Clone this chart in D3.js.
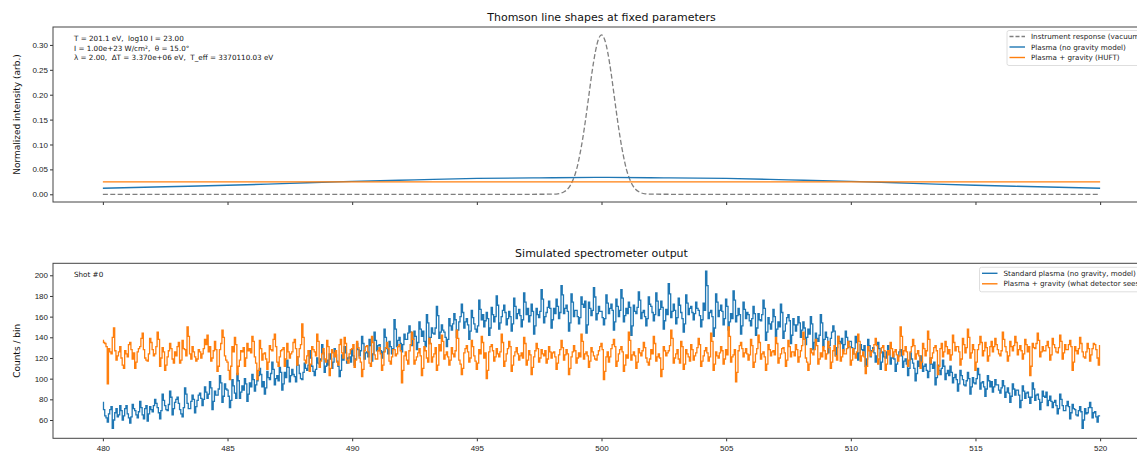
<!DOCTYPE html>
<html>
<head>
<meta charset="utf-8">
<script src="https://cdn.jsdelivr.net/npm/d3@7"></script>
<style>
  body { margin: 0; background: #fff; }
  svg { display: block; font-family: "DejaVu Sans", sans-serif; }
  .tick text { fill: #222; }
</style>
</head>
<body>
<div id="dataviz"></div>
<script>
// x ticks shared by both panels
var xTicks = [480, 485, 490, 495, 500, 505, 510, 515, 520];
var topYTicks = [0, 0.05, 0.10, 0.15, 0.20, 0.25, 0.30];
var botYTicks = [60, 80, 100, 120, 140, 160, 180, 200];

// top panel: smooth model line shapes
var shapeX = [480, 482.5, 485, 487.5, 490, 492.5, 495, 497.5, 500, 502.5, 505, 507.5, 510, 512.5, 515, 517.5, 520];
var plasmaShape = [0.012, 0.015, 0.018, 0.022, 0.026, 0.029, 0.032, 0.033, 0.034, 0.033, 0.032, 0.029, 0.026, 0.022, 0.018, 0.015, 0.012];
var gravityShape = [0.025, 0.025, 0.025, 0.025, 0.025, 0.025, 0.025, 0.025, 0.025, 0.025, 0.025, 0.025, 0.025, 0.025, 0.025, 0.025, 0.025];

// instrument response (vacuum)
var instX = [480, 490, 497, 498, 498.25, 498.5, 498.625, 498.75, 498.875, 499, 499.125, 499.25, 499.375, 499.5, 499.625, 499.75, 499.875, 500,
  500.125, 500.25, 500.375, 500.5, 500.625, 500.75, 500.875, 501, 501.125, 501.25, 501.375, 501.5, 501.75, 502, 503, 510, 520];
var instY = [0, 0, 0, 0.0002, 0.001, 0.005, 0.0097, 0.018, 0.031, 0.050, 0.078, 0.113, 0.155, 0.201, 0.247, 0.285, 0.311, 0.320,
  0.311, 0.285, 0.247, 0.201, 0.155, 0.113, 0.078, 0.050, 0.031, 0.018, 0.0097, 0.005, 0.001, 0.0002, 0, 0, 0];

// bottom panel: counts per bin, 480 .. 520, 40 bins per row (2 nm)
var stdCounts = [
  77,70,64,62,58,66,70,73,52,60,67,71,63,65,74,69,60,64,71,74,66,62,57,63,75,71,69,65,62,68,78,72,65,61,71,74,59,66,73,70,
  68,74,80,76,72,67,61,69,85,79,74,70,69,75,88,82,65,71,77,80,82,76,70,66,63,72,91,85,76,71,71,78,84,80,67,73,79,84,86,81,
  74,80,92,87,81,85,97,91,70,78,88,84,84,90,103,96,77,83,95,90,89,83,72,79,99,93,86,81,105,98,81,87,93,89,100,95,78,85,96,92,
  104,99,88,94,98,103,110,104,92,97,85,91,107,101,99,105,116,109,94,100,103,98,111,106,89,95,106,101,118,111,97,103,109,104,102,97,121,113,105,100,
  99,106,115,110,108,113,127,120,112,107,103,109,120,115,114,119,133,125,106,112,118,113,124,119,110,116,129,123,117,112,102,108,123,118,131,125,115,120,121,116,
  128,122,113,119,134,128,122,127,141,134,119,125,126,121,138,132,117,124,145,137,127,132,133,127,120,126,148,140,129,124,136,131,124,129,157,148,131,137,140,134,
  126,133,143,138,138,144,151,145,132,138,146,141,128,135,155,148,141,146,136,131,162,154,134,140,149,144,143,149,170,161,139,145,152,147,145,140,131,138,158,151,
  147,153,163,157,140,147,155,160,172,164,149,155,158,152,138,146,166,159,153,148,145,151,176,167,157,162,150,156,164,158,142,149,169,162,155,160,180,171,148,154,
  160,166,171,164,152,158,165,160,146,153,178,170,158,163,167,161,150,157,183,174,162,168,155,161,172,165,143,151,168,162,159,165,186,177,154,160,164,169,175,168,
  149,157,168,163,177,170,158,164,190,181,163,168,171,165,146,154,182,174,160,166,166,160,153,159,179,172,169,175,144,152,174,168,161,166,188,179,157,163,170,165,
  165,159,152,158,181,173,163,168,172,166,147,155,177,170,160,166,186,178,155,161,168,163,174,169,142,151,171,165,163,169,184,176,158,164,166,160,151,158,179,172,
  170,164,156,162,183,175,161,167,175,169,148,156,167,162,192,182,159,165,172,166,153,159,178,171,164,158,145,153,181,173,162,168,170,164,157,163,174,168,166,161,
  150,157,173,166,204,190,158,164,166,160,141,149,182,174,160,166,171,165,152,158,177,170,147,155,163,158,185,176,155,161,168,162,143,151,174,167,158,164,162,156,
  151,158,170,163,142,149,163,157,156,162,176,168,137,145,159,153,148,155,167,160,141,148,155,150,172,164,139,146,153,159,162,156,134,142,158,152,146,152,160,154,
  140,147,155,149,133,140,148,143,160,153,128,135,144,139,136,142,162,154,131,138,145,140,125,132,139,145,151,146,122,130,141,136,134,139,127,133,146,140,130,136,
  136,130,124,129,141,135,118,125,133,128,127,132,112,119,138,132,121,127,130,125,116,122,135,129,109,116,126,121,120,126,132,127,114,120,124,119,107,114,121,126,
  128,122,111,117,119,114,103,110,125,119,115,110,98,105,117,112,122,116,107,112,114,108,101,107,120,114,110,116,94,101,113,108,104,110,118,112,99,105,108,103,
  112,106,96,101,104,99,88,95,108,103,99,94,93,98,106,100,85,92,101,96,95,100,110,104,90,96,97,92,83,90,103,98,92,97,87,92,99,94,94,89,
  86,91,98,93,82,87,91,86,77,83,95,90,84,89,89,84,72,79,93,88,81,86,87,82,76,82,96,90,79,84,85,80,70,77,88,83,82,87,74,79,
  83,78,72,77,79,74,66,71,85,80,74,69,69,74,78,73,61,67,75,71,70,65,64,69,73,68,52,60,71,66,67,72,77,72,62,67,68,63,58,64,
  64
];
var gravCounts = [
  137,135,134,131,95,129,126,124,140,149,127,118,122,126,131,120,113,110,127,124,121,133,135,128,119,125,110,116,126,129,131,139,144,128,120,118,117,124,139,135,
  128,122,124,131,145,138,112,120,130,126,108,113,121,127,134,129,119,115,126,122,131,135,115,118,137,129,128,122,150,141,124,119,131,126,121,117,119,128,126,120,
  124,129,138,133,142,126,131,117,120,127,136,128,107,112,128,134,147,140,122,118,116,108,99,112,131,126,140,133,104,112,118,127,126,130,112,120,134,127,129,125,
  141,136,121,115,99,108,137,129,118,124,125,119,109,116,132,128,127,138,143,131,116,112,121,127,128,130,112,119,134,126,120,124,126,135,138,129,113,121,129,133,
  153,140,118,115,122,127,107,114,131,128,126,122,143,136,111,117,124,129,119,116,137,131,103,110,128,125,121,127,116,113,133,138,125,120,140,134,118,115,124,128,
  129,133,111,118,136,130,120,116,102,109,127,131,132,126,115,112,141,135,123,119,119,127,130,124,108,113,126,130,135,129,117,114,121,128,128,122,124,131,133,127,
  96,108,122,126,118,114,127,133,145,138,114,118,121,125,129,122,103,110,131,127,120,116,139,134,116,121,124,130,108,113,133,127,142,136,119,123,126,121,113,118,
  130,124,121,127,147,139,118,114,104,110,125,129,132,126,116,120,137,131,122,117,109,115,128,124,141,135,120,125,100,108,126,131,133,127,117,121,129,124,121,126,
  143,135,112,117,124,129,136,131,107,113,122,126,130,124,118,122,125,120,140,134,113,118,127,123,104,111,121,127,134,129,116,120,128,124,122,127,115,119,131,126,
  120,125,126,121,109,115,123,128,137,130,118,123,128,124,104,110,121,126,132,127,115,120,125,121,143,136,119,124,126,122,111,117,130,126,122,119,118,123,127,131,
  134,128,99,107,121,126,116,121,129,133,138,131,112,117,124,128,131,126,107,113,123,120,145,137,118,123,126,122,110,116,129,125,122,127,135,130,120,116,113,119,
  128,124,141,134,117,121,124,120,102,109,131,127,122,125,127,132,147,139,115,120,124,128,119,115,136,131,109,114,128,124,121,117,133,128,118,122,125,130,139,133,
  112,117,122,127,130,125,117,121,144,136,108,114,126,122,120,125,131,127,114,119,128,123,150,141,116,121,123,128,97,106,127,132,135,129,121,125,129,124,118,123,
  138,132,111,116,124,129,142,135,119,124,126,121,108,114,133,128,122,126,127,123,140,134,115,120,124,129,130,125,112,118,137,131,121,126,126,122,133,128,116,121,
  127,132,145,138,120,116,108,114,129,125,123,128,138,132,114,119,125,121,131,127,119,124,136,130,110,116,127,132,122,118,141,134,117,121,128,124,124,129,136,131,
  113,118,129,124,120,126,143,136,117,122,126,121,105,112,131,127,122,126,128,133,139,132,114,119,125,130,132,127,108,114,127,123,135,129,121,126,128,123,117,122,
  150,141,123,127,131,126,112,118,126,131,138,132,119,124,127,122,110,116,134,129,122,127,146,138,115,120,125,130,132,127,104,112,129,134,121,126,136,131,124,128,
  118,123,142,135,127,131,131,126,113,119,139,133,125,130,148,140,120,125,133,128,108,116,128,133,141,135,122,127,135,130,117,122,131,136,126,131,139,133,128,124,
  122,127,145,138,131,126,117,122,136,131,127,132,141,135,123,128,132,127,119,124,138,133,126,131,103,112,134,130,129,134,144,137,121,126,131,127,127,132,136,130,
  118,123,139,133,130,126,125,130,142,136,119,125,133,128,128,133,137,131,108,116,131,127,124,129,140,134,126,121,120,126,134,129,117,123,129,134,133,128,120,113,
  132
];

var annotLines = [
  "T = 201.1 eV,  log10 I = 23.00",
  "I = 1.00e+23 W/cm\u00B2,  \u03B8 = 15.0\u00B0",
  "\u03BB = 2.00,  \u0394T = 3.370e+06 eV,  T_eff = 3370110.03 eV"
];

var blue = '#1f77b4', orange = '#ff7f0e', grey = '#7f7f7f';

var widthFull = 1137, heightFull = 452;
var svg = d3.select('#dataviz').append('svg')
  .attr('width', widthFull).attr('height', heightFull);

var axLeft = 53, axRight = 1150;
var x = d3.scaleLinear().domain([478, 522]).range([axLeft, axRight]);

// panel geometry
var panelTop = { y0: 27, y1: 202 };
var panelBot = { y0: 263.3, y1: 438.3 };

var yTop = d3.scaleLinear().domain([-0.0155, 0.336]).range([panelTop.y1, panelTop.y0]);
var yBot = d3.scaleLinear().domain([42.3, 211.6]).range([panelBot.y1, panelBot.y0]);

function drawAxes(yScale, ticks, fmt, p, showXLabels) {
  svg.append('g')
    .attr('transform', 'translate(0,' + p.y1 + ')')
    .call(d3.axisBottom(x).tickValues(xTicks).tickSize(3).tickSizeOuter(0)
      .tickFormat(showXLabels ? d3.format('d') : function() { return ''; }))
    .call(g => g.select('.domain').remove())
    .call(g => g.selectAll('.tick line').attr('stroke', '#333'))
    .call(g => g.selectAll('.tick text').attr('font-size', 8).attr('dy', '0.85em').attr('y', 6));

  svg.append('g')
    .attr('transform', 'translate(' + axLeft + ',0)')
    .call(d3.axisLeft(yScale).tickValues(ticks).tickSize(3).tickSizeOuter(0).tickFormat(fmt))
    .call(g => g.select('.domain').remove())
    .call(g => g.selectAll('.tick line').attr('stroke', '#333'))
    .call(g => g.selectAll('.tick text').attr('font-size', 8).attr('x', -5));
}

function drawFrame(p) {
  svg.append('rect')
    .attr('x', axLeft).attr('y', p.y0)
    .attr('width', axRight - axLeft).attr('height', p.y1 - p.y0)
    .attr('fill', 'none').attr('stroke', '#444').attr('stroke-width', 1);
}

function legend(items, lx, ly, w) {
  var g = svg.append('g');
  var rowH = 10.5;
  g.append('rect')
    .attr('x', lx).attr('y', ly)
    .attr('width', w).attr('height', items.length * rowH + 3.5)
    .attr('rx', 2)
    .attr('fill', '#fff').attr('fill-opacity', 0.85)
    .attr('stroke', '#d6d6d6').attr('stroke-width', 0.8);
  items.forEach(function(it, i) {
    var cy = ly + 6 + i * rowH;
    g.append('line')
      .attr('x1', lx + 2.5).attr('x2', lx + 18)
      .attr('y1', cy).attr('y2', cy)
      .attr('stroke', it.color).attr('stroke-width', 1.4)
      .attr('stroke-dasharray', it.dash || null);
    g.append('text')
      .attr('x', lx + 24).attr('y', cy)
      .attr('dy', '0.35em')
      .attr('font-size', 7.2).attr('fill', '#222')
      .text(it.label);
  });
}

// ---------- top panel ----------
drawAxes(yTop, topYTicks, d3.format('.2f'), panelTop, false);

var instLine = d3.line().x((d, i) => x(instX[i])).y(d => yTop(d)).curve(d3.curveMonotoneX);
svg.append('path')
  .datum(instY)
  .attr('d', instLine)
  .attr('fill', 'none').attr('stroke', grey).attr('stroke-width', 1.3)
  .attr('stroke-dasharray', '5,2.4');

var shapeLine = d3.line().x((d, i) => x(shapeX[i])).y(d => yTop(d)).curve(d3.curveMonotoneX);
svg.append('path').datum(plasmaShape).attr('d', shapeLine)
  .attr('fill', 'none').attr('stroke', blue).attr('stroke-width', 1.4);
svg.append('path').datum(gravityShape).attr('d', shapeLine)
  .attr('fill', 'none').attr('stroke', orange).attr('stroke-width', 1.4);

drawFrame(panelTop);

svg.append('text')
  .attr('x', (axLeft + axRight) / 2).attr('y', 21)
  .attr('text-anchor', 'middle').attr('font-size', 11).attr('fill', '#111')
  .text('Thomson line shapes at fixed parameters');

svg.append('text')
  .attr('transform', 'translate(17,' + (panelTop.y0 + panelTop.y1) / 2 + ') rotate(-90)')
  .attr('text-anchor', 'middle').attr('dy', '0.35em')
  .attr('font-size', 9).attr('fill', '#111')
  .text('Normalized intensity (arb.)');

annotLines.forEach(function(t, i) {
  svg.append('text')
    .attr('x', 74).attr('y', 38.7 + i * 9.3)
    .attr('dy', '0.35em')
    .attr('font-size', 7.2).attr('fill', '#111')
    .style('white-space', 'pre')
    .text(t);
});

legend([
  { label: 'Instrument response (vacuum)', color: grey, dash: '4,2' },
  { label: 'Plasma (no gravity model)', color: blue },
  { label: 'Plasma + gravity (HUFT)', color: orange }
], 1007, 30.5, 145);

// ---------- bottom panel ----------
drawAxes(yBot, botYTicks, d3.format('d'), panelBot, true);

var binScale = d3.scaleLinear().domain([0, stdCounts.length - 1]).range([480, 520]);
var stepLine = d3.line().x((d, i) => x(binScale(i))).y(d => yBot(d)).curve(d3.curveStep);

svg.append('path').datum(stdCounts).attr('d', stepLine)
  .attr('fill', 'none').attr('stroke', blue).attr('stroke-width', 1.3);
svg.append('path').datum(gravCounts).attr('d', stepLine)
  .attr('fill', 'none').attr('stroke', orange).attr('stroke-width', 1.3);

drawFrame(panelBot);

svg.append('text')
  .attr('x', (axLeft + axRight) / 2).attr('y', 257)
  .attr('text-anchor', 'middle').attr('font-size', 11).attr('fill', '#111')
  .text('Simulated spectrometer output');

svg.append('text')
  .attr('transform', 'translate(17,' + (panelBot.y0 + panelBot.y1) / 2 + ') rotate(-90)')
  .attr('text-anchor', 'middle').attr('dy', '0.35em')
  .attr('font-size', 9).attr('fill', '#111')
  .text('Counts / bin');

svg.append('text')
  .attr('x', 74).attr('y', 274.5).attr('dy', '0.35em')
  .attr('font-size', 7.2).attr('fill', '#111')
  .text('Shot #0');

legend([
  { label: 'Standard plasma (no gravity, model)', color: blue },
  { label: 'Plasma + gravity (what detector sees)', color: orange }
], 979.5, 267.3, 175);
</script>
</body>
</html>
